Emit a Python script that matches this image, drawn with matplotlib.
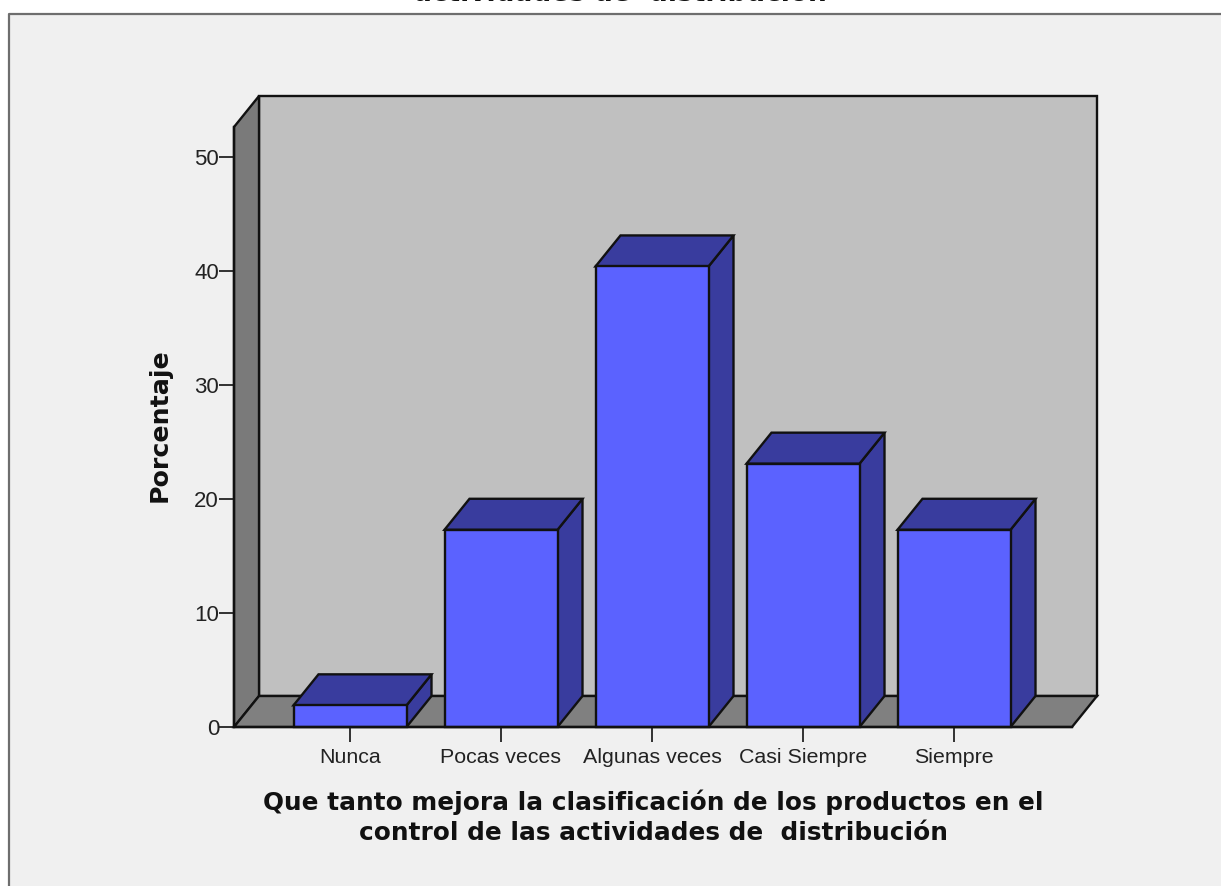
import matplotlib
matplotlib.use("Agg")
import matplotlib.pyplot as plt
from matplotlib.patches import Polygon, Rectangle
from matplotlib.lines import Line2D

categories = ["Nunca", "Pocas veces", "Algunas veces", "Casi Siempre", "Siempre"]
percentages = [1.9, 17.3, 40.4, 23.1, 17.3]
y_ticks = [0, 10, 20, 30, 40, 50]
title_text = "actividades de  distribución"
x_label = "Que tanto mejora la clasificación de los productos en el\ncontrol de las actividades de  distribución"
y_label = "Porcentaje"

W, H = 1221, 886
plt.rcParams["font.family"] = ["Liberation Sans", "DejaVu Sans"]
fig = plt.figure(figsize=(W / 100, H / 100), dpi=100, facecolor="white")

# outer chart panel
fig.add_artist(Rectangle((9 / W, 0), (W - 9) / W, (H - 14) / H, transform=fig.transFigure,
                         facecolor="#f0f0f0", edgecolor="none", zorder=-2))
fig.add_artist(Line2D([9 / W, 9 / W, 1], [0, (H - 14) / H, (H - 14) / H], transform=fig.transFigure,
                      color="#6e6e6e", lw=1.6, zorder=-1))
fig.text(620 / W, (H + 6) / H, title_text, ha="center", va="center", fontsize=19,
         fontweight="bold", color="#111111", family="DejaVu Sans")

L, R, B, T = 234, 1072, 727, 127
ax = fig.add_axes([L / W, (H - B) / H, (R - L) / W, (B - T) / H])
ax.patch.set_alpha(0)

px_y = 11.4
y_top = (B - T) / px_y
ax.set_ylim(0, y_top)
spacing = 151
ax.set_xlim((L - 350) / spacing, (R - 350) / spacing)
bar_w = 113 / spacing
dx, dy = 25 / spacing, 31 / px_y
x0, x1 = ax.get_xlim()
EDGE = "#111111"
lw = 1.7


def poly(pts, fc, z):
    ax.add_patch(Polygon(pts, closed=True, facecolor=fc, edgecolor=EDGE, lw=lw,
                         joinstyle="miter", clip_on=False, zorder=z))


poly([(x0 + dx, dy), (x1 + dx, dy), (x1 + dx, y_top + dy), (x0 + dx, y_top + dy)], "#c0c0c0", 1)
poly([(x0, 0), (x0 + dx, dy), (x0 + dx, y_top + dy), (x0, y_top)], "#7a7a7a", 1.1)
poly([(x0, 0), (x1, 0), (x1 + dx, dy), (x0 + dx, dy)], "#808080", 1.2)

for i, v in enumerate(percentages):
    a, b = i - bar_w / 2, i + bar_w / 2
    z = 2 + i * 0.1
    poly([(b, 0), (b + dx, dy), (b + dx, v + dy), (b, v)], "#393c9e", z)
    poly([(a, v), (b, v), (b + dx, v + dy), (a + dx, v + dy)], "#393c9e", z)
    poly([(a, 0), (b, 0), (b, v), (a, v)], "#5b62ff", z + 0.01)

for s in ("top", "right"):
    ax.spines[s].set_visible(False)
for s in ("left", "bottom"):
    ax.spines[s].set_linewidth(1.7)
    ax.spines[s].set_color(EDGE)
    ax.spines[s].set_zorder(5)

ax.set_xticks(range(len(categories)), categories)
ax.set_yticks(y_ticks)
ax.tick_params(axis="both", length=10.8, width=1.3, color="#222222", labelcolor="#222222")
ax.tick_params(axis="x", labelsize=15.4, pad=4.5)
ax.tick_params(axis="y", labelsize=16, pad=0)

fig.text(653 / W, (H - 817) / H, x_label, ha="center", va="center", fontsize=17.8,
         fontweight="bold", color="#111111", linespacing=1.33, family="DejaVu Sans")
fig.text(160 / W, (H - 425) / H, y_label, ha="center", va="center", rotation=90,
         fontsize=18.2, fontweight="bold", color="#111111", family="DejaVu Sans")

fig.savefig("out.png", dpi=100, facecolor="white")
